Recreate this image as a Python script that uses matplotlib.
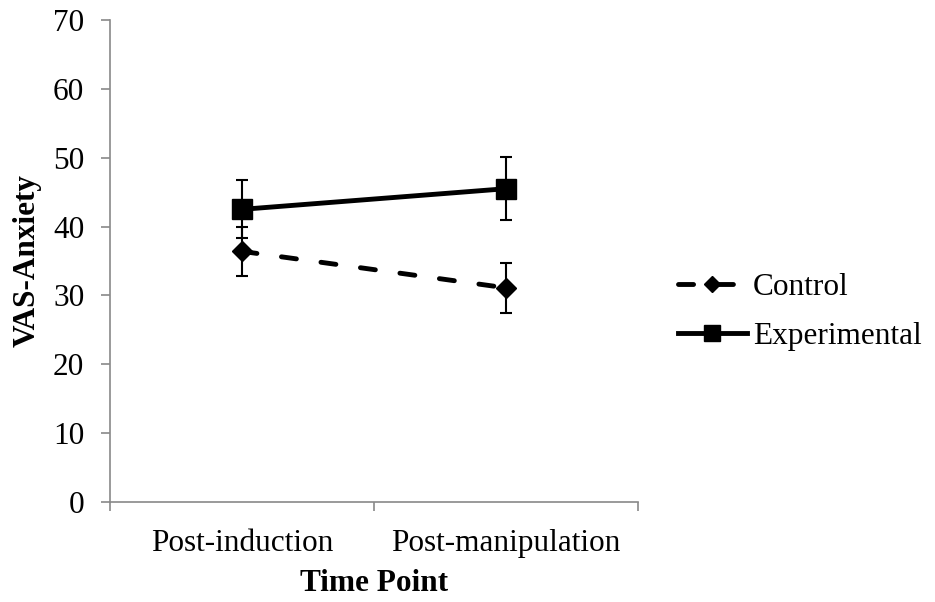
import matplotlib.pyplot as plt

time_points = ["Post-induction", "Post-manipulation"]
control_mean = [36.4, 31.1]
control_err = [3.6, 3.6]
experimental_mean = [42.5, 45.5]
experimental_err = [4.2, 4.6]

plt.rcParams['font.family'] = ['Liberation Serif', 'DejaVu Serif']
FS = 22.5

fig = plt.figure(figsize=(9.35, 6.02), dpi=100)
ax = fig.add_axes([0.1176, 0.1661, 0.5648, 0.8007])

x = [0.5, 1.5]
ax.errorbar(x, control_mean, yerr=control_err, fmt='none', ecolor='black',
            elinewidth=1.5, capsize=4.2, capthick=1.5, zorder=2)
ax.errorbar(x, experimental_mean, yerr=experimental_err, fmt='none', ecolor='black',
            elinewidth=1.5, capsize=4.2, capthick=1.5, zorder=2)
ax.plot(x, control_mean, color='black', lw=3.5, linestyle=(0, (3.1, 5.1)),
        dash_capstyle='round', marker='D', markersize=10.5, label='Control', zorder=3)
ax.plot(x, experimental_mean, color='black', lw=3.5, marker='s', markersize=14,
        label='Experimental', zorder=3)

ax.set_xlim(0, 2)
ax.set_ylim(0, 70)
ax.set_yticks(range(0, 71, 10))
ax.set_xticks([0, 1, 2])
ax.set_xticklabels([])
ax.set_xticks(x, minor=True)
ax.set_xticklabels(time_points, minor=True)
ax.tick_params(axis='x', which='minor', length=0, pad=19.5, labelsize=FS)
ax.tick_params(axis='x', which='major', length=6.5, color='#898989', width=1.2)
ax.tick_params(axis='y', length=6.5, color='#898989', width=1.2, labelsize=FS, pad=12)

for s in ['top', 'right']:
    ax.spines[s].set_visible(False)
for s in ['left', 'bottom']:
    ax.spines[s].set_color('#898989')
    ax.spines[s].set_linewidth(1.2)

ax.set_xlabel("Time Point", fontsize=FS, fontweight='bold', labelpad=8)
ax.set_ylabel("VAS-Anxiety", fontsize=FS, fontweight='bold', labelpad=8)

fig.legend(*ax.get_legend_handles_labels(), loc='center left',
           bbox_to_anchor=(0.725, 0.482), frameon=False, fontsize=FS,
           borderpad=0, borderaxespad=0, handlelength=2.2, handletextpad=0.2,
           labelspacing=0.62, markerscale=0.8)

fig.savefig("out.png", dpi=100)
